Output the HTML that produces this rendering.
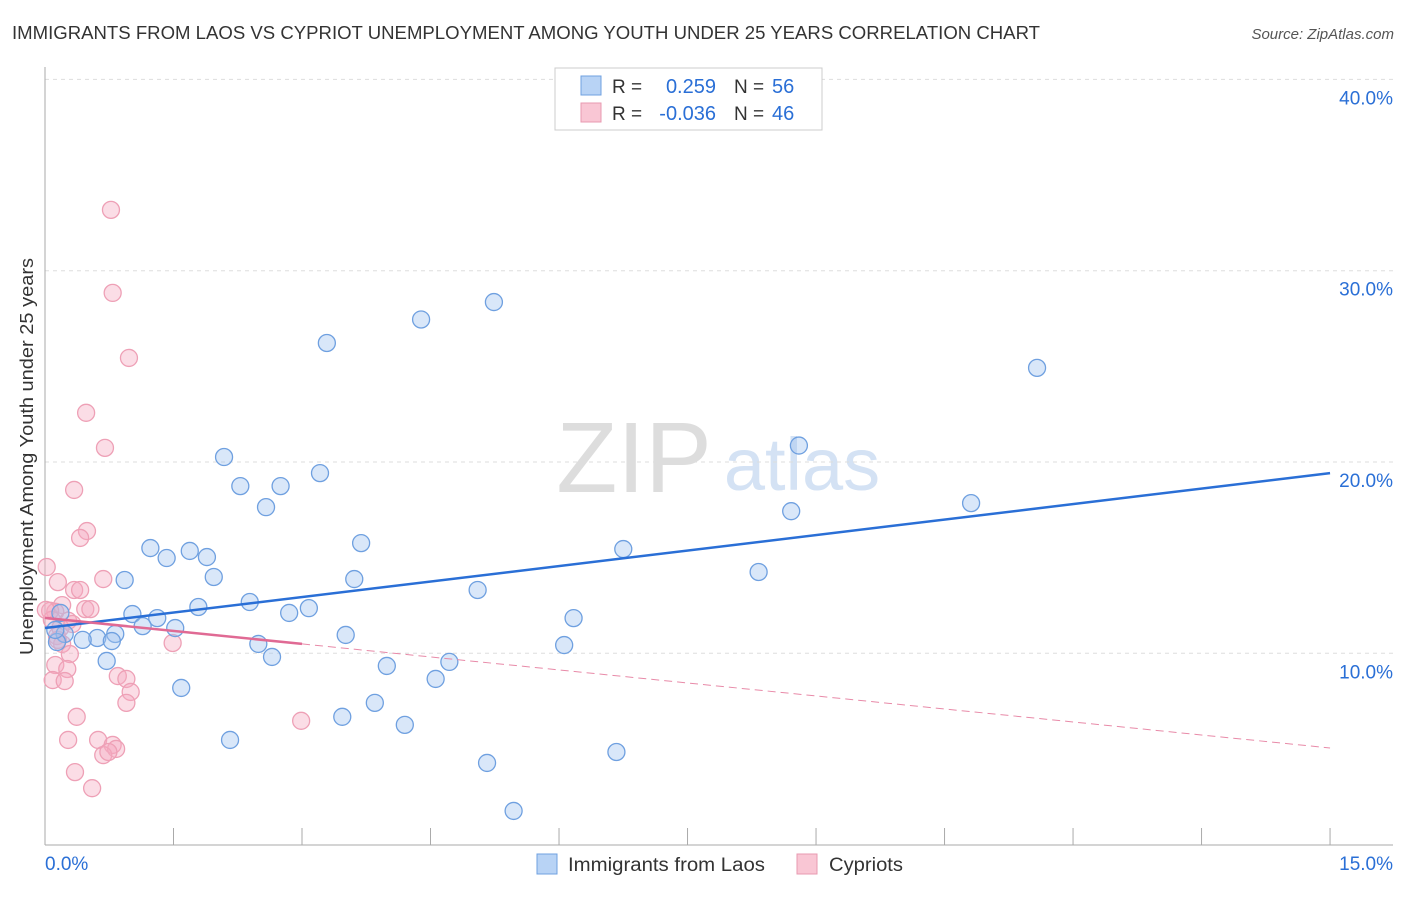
<!DOCTYPE html>
<html><head><meta charset="utf-8"><style>
body{margin:0;background:#fff;font-family:"Liberation Sans",sans-serif;}
svg text{font-family:"Liberation Sans",sans-serif;}
</style></head><body>
<svg id="c" width="1406" height="892" xmlns="http://www.w3.org/2000/svg">
<text x="12" y="39" font-size="18" fill="#333" textLength="1028" lengthAdjust="spacingAndGlyphs">IMMIGRANTS FROM LAOS VS CYPRIOT UNEMPLOYMENT AMONG YOUTH UNDER 25 YEARS CORRELATION CHART</text>
<text x="1394" y="39" font-size="15" fill="#555" text-anchor="end" font-style="italic">Source: ZipAtlas.com</text>
<text x="33" y="655" font-size="18" fill="#333" textLength="397" lengthAdjust="spacingAndGlyphs" transform="rotate(-90 33 655)">Unemployment Among Youth under 25 years</text>
<text x="634" y="492" font-size="100" fill="#ddd" text-anchor="middle" font-family="Liberation Serif">ZIP</text>
<text x="802" y="490" font-size="74" fill="#d4e2f4" text-anchor="middle">atlas</text>
<g id="grid"></g><g id="pts"></g><g id="lines"></g>
<g>
<rect x="555" y="68" width="267" height="62" fill="#fff" stroke="#ccc"/>
<rect x="581" y="76" width="20" height="19" fill="#b8d3f5" stroke="#6fa0e0"/>
<rect x="581" y="103" width="20" height="19" fill="#f9c6d4" stroke="#e89ab0"/>
<text x="612" y="93" font-size="19" fill="#333">R =</text>
<text x="716" y="93" font-size="20" fill="#2a6fd6" text-anchor="end">0.259</text>
<text x="734" y="93" font-size="19" fill="#333">N =</text>
<text x="772" y="93" font-size="20" fill="#2a6fd6">56</text>
<text x="612" y="120" font-size="19" fill="#333">R =</text>
<text x="716" y="120" font-size="20" fill="#2a6fd6" text-anchor="end">-0.036</text>
<text x="734" y="120" font-size="19" fill="#333">N =</text>
<text x="772" y="120" font-size="20" fill="#2a6fd6">46</text>
</g>
<g>
<rect x="537" y="854" width="20" height="20" fill="#b8d3f5" stroke="#6fa0e0"/>
<text x="568" y="871" font-size="19" fill="#333" textLength="197" lengthAdjust="spacingAndGlyphs">Immigrants from Laos</text>
<rect x="797" y="854" width="20" height="20" fill="#f9c6d4" stroke="#e89ab0"/>
<text x="829" y="871" font-size="19" fill="#333" textLength="74" lengthAdjust="spacingAndGlyphs">Cypriots</text>
</g>
</svg>
<script>
const yTicks=[10,20,30,40];
const xTickLabels=["0.0%","15.0%"];
const blueX=[4.39,5.24,3.29,11.58,8.80,2.09,3.21,2.28,2.75,2.58,8.71,10.81,1.23,3.69,1.69,1.42,1.89,6.75,0.93,1.97,3.61,8.33,5.05,2.39,1.79,3.08,2.85,1.02,1.31,1.14,6.17,1.52,3.51,0.82,0.61,0.23,0.44,0.14,0.78,2.49,6.06,2.65,0.72,4.72,3.99,1.59,4.56,3.85,3.47,4.20,2.16,6.67,5.16,5.47,0.18,0.12];
const blueY=[27.45,28.36,26.22,24.92,20.86,20.26,19.42,18.74,18.74,17.64,17.43,17.85,15.50,15.76,15.35,14.98,15.03,15.45,13.83,13.99,13.88,14.25,13.31,12.68,12.42,12.36,12.11,12.05,11.84,11.42,11.84,11.32,10.96,11.01,10.80,11.01,10.70,10.59,10.64,10.49,10.43,9.81,9.60,9.55,9.34,8.19,8.66,7.41,6.68,6.26,5.47,4.84,4.27,1.76,12.11,11.22];
const pinkX=[0.77,0.79,0.98,0.48,0.70,0.34,0.49,0.41,0.02,0.68,0.15,0.34,0.41,0.47,0.20,0.53,0.12,0.06,0.08,0.27,0.18,0.32,0.14,0.20,1.49,0.29,0.12,0.26,0.09,0.23,0.85,0.95,1.00,0.95,0.37,2.99,0.27,0.62,0.79,0.83,0.68,0.74,0.35,0.55,0.01,0.15];
const pinkY=[33.18,28.84,25.44,22.57,20.74,18.54,16.39,16.03,14.51,13.88,13.72,13.31,13.31,12.31,12.52,12.31,12.17,12.22,11.75,11.70,11.33,11.53,10.90,10.49,10.54,9.96,9.39,9.18,8.60,8.55,8.81,8.66,7.98,7.41,6.68,6.47,5.47,5.47,5.21,5.00,4.68,4.84,3.79,2.95,12.27,10.70];
const blueTrend=[11.32,19.42];
const pinkTrend=[11.85,5.05];
const pinkSolidEnd=3.0;
const NS="http://www.w3.org/2000/svg";
const X=v=>45+v*85.67, Y=v=>844.6-v*19.13;
function mk(t,a,p){const e=document.createElementNS(NS,t);for(const k in a)e.setAttribute(k,a[k]);p.appendChild(e);return e;}
const g=document.getElementById('grid');
yTicks.forEach(t=>{
 const l=mk('line',{x1:45,x2:1393,y1:Y(t),y2:Y(t),stroke:'#ddd','stroke-dasharray':'4,4'},g);
 
 
 const tx=mk('text',{x:1393,y:Y(t)+25,'font-size':19,fill:'#2a6fd6','text-anchor':'end'},g);tx.textContent=t.toFixed(1)+'%';
 
 
});
mk('line',{x1:45,x2:45,y1:67,y2:845,stroke:'#aaa'},g);
mk('line',{x1:45,x2:1393,y1:845,y2:845,stroke:'#aaa'},g);
for(let i=1;i<=10;i++){const tk=mk('line',{x1:X(i*1.5),x2:X(i*1.5),y1:828,y2:845,stroke:'#aaa'},g);
 
 }
const xl0=mk('text',{x:45,y:870,'font-size':19,fill:'#2a6fd6'},g);xl0.textContent=xTickLabels[0];


const xl1=mk('text',{x:1393,y:870,'font-size':19,fill:'#2a6fd6','text-anchor':'end'},g);xl1.textContent=xTickLabels[1];


const p=document.getElementById('pts');
pinkX.forEach((x,i)=>{const c=mk('circle',{cx:X(x),cy:Y(pinkY[i]),r:8.5,fill:'rgba(246,170,192,0.4)',stroke:'#eea0b6','stroke-width':1.3},p);
 
 });
blueX.forEach((x,i)=>{const c=mk('circle',{cx:X(x),cy:Y(blueY[i]),r:8.5,fill:'rgba(160,195,240,0.4)',stroke:'#6fa0e0','stroke-width':1.3},p);
 
 });
const L=document.getElementById('lines');
const pt=x=>pinkTrend[0]+(pinkTrend[1]-pinkTrend[0])*x/15;
const b=mk('line',{x1:X(0),y1:Y(blueTrend[0]),x2:X(15),y2:Y(blueTrend[1]),stroke:'#2a6fd6','stroke-width':2.5},L);


const ps=mk('line',{x1:X(0),y1:Y(pt(0)),x2:X(pinkSolidEnd),y2:Y(pt(pinkSolidEnd)),stroke:'#e06a94','stroke-width':2.5},L);


const pd=mk('line',{x1:X(pinkSolidEnd),y1:Y(pt(pinkSolidEnd)),x2:X(15),y2:Y(pt(15)),stroke:'#e88aa8','stroke-width':1,'stroke-dasharray':'8,5'},L);


</script>
</body></html>
